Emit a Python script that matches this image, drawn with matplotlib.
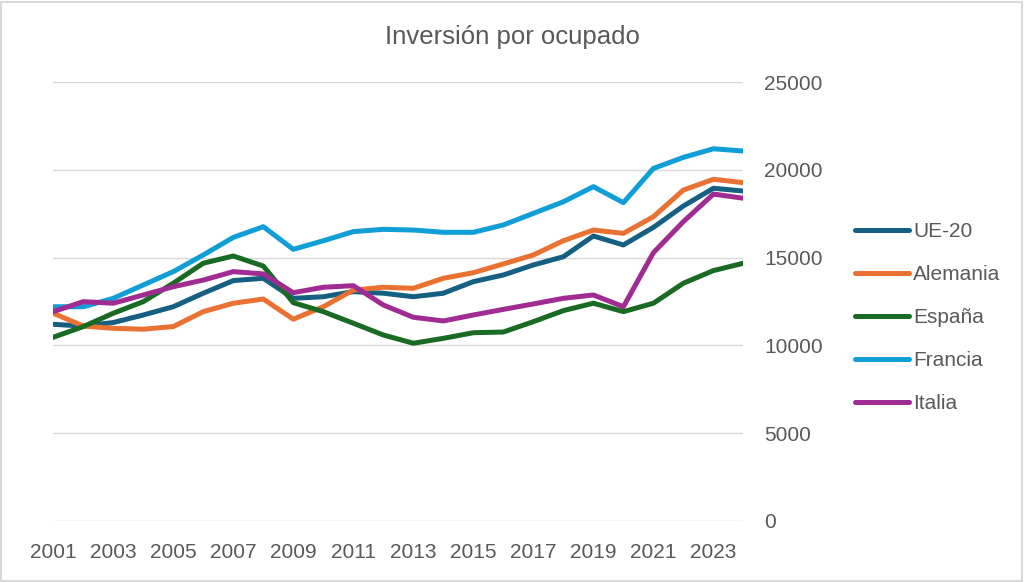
import matplotlib.pyplot as plt
from matplotlib.patches import Rectangle

years = list(range(2001, 2025))

ue20 = [11200, 11100, 11300, 11730, 12200, 12970, 13690, 13820, 12680, 12770, 13060, 12970,
        12770, 12970, 13630, 14010, 14580, 15050, 16230, 15720, 16720, 17940, 18950, 18790]
alemania = [11830, 11100, 10970, 10920, 11070, 11920, 12400, 12640, 11490, 12200, 13150, 13310,
            13250, 13820, 14140, 14640, 15150, 15960, 16570, 16380, 17330, 18850, 19460, 19270]
espana = [10460, 11070, 11830, 12490, 13540, 14680, 15090, 14520, 12430, 11920, 11260, 10590,
          10120, 10400, 10720, 10760, 11350, 11980, 12400, 11920, 12400, 13540, 14260, 14680]
francia = [12200, 12200, 12680, 13440, 14200, 15150, 16150, 16760, 15470, 15960, 16480, 16610,
           16570, 16440, 16440, 16860, 17520, 18180, 19040, 18130, 20080, 20710, 21200, 21070]
italia = [11920, 12490, 12400, 12870, 13340, 13720, 14200, 14070, 13000, 13310, 13400, 12300,
          11600, 11390, 11730, 12050, 12360, 12680, 12870, 12200, 15280, 17050, 18620, 18380]

series = [('UE-20', ue20, '#156082'),
          ('Alemania', alemania, '#E97132'),
          ('España', espana, '#196B24'),
          ('Francia', francia, '#0F9ED5'),
          ('Italia', italia, '#A02B93')]

plt.rcParams['font.family'] = ['Liberation Sans', 'DejaVu Sans']
grey = '#595959'

fig = plt.figure(figsize=(10.24, 5.82), dpi=100)
ax = fig.add_axes([0.052, 0.105, 0.674, 0.754])

for name, vals, col in series:
    ax.plot(years, vals, color=col, lw=3.6, label=name, solid_capstyle='round')

ax.set_xlim(2001, 2024)
ax.set_ylim(0, 25000)
ax.set_yticks(range(0, 25001, 5000))
ax.set_xticks(range(2001, 2024, 2))
ax.yaxis.tick_right()
ax.grid(axis='y', color='#D9D9D9', lw=1)
ax.set_axisbelow(True)
for s in ax.spines.values():
    s.set_visible(False)
ax.tick_params(axis='both', length=0, colors=grey, labelsize=15)
ax.tick_params(axis='y', pad=15)
ax.tick_params(axis='x', pad=16)

# title centred on the whole chart, as Excel does
fig.text(0.5, 1 - 37 / 582, 'Inversión por ocupado', color=grey, fontsize=18.5,
         ha='center', va='center')

leg = ax.legend(loc='center left', bbox_to_anchor=(1.134, 0.4636), frameon=False,
                fontsize=15, handlelength=2.6, handletextpad=0.2, labelspacing=1.15)
for t in leg.get_texts():
    t.set_color(grey)

fig.patches.append(Rectangle((0.001, 0.002), 0.997, 0.995, transform=fig.transFigure,
                             fill=False, edgecolor='#D9D9D9', lw=1.5))

fig.savefig('out.png', dpi=100)
